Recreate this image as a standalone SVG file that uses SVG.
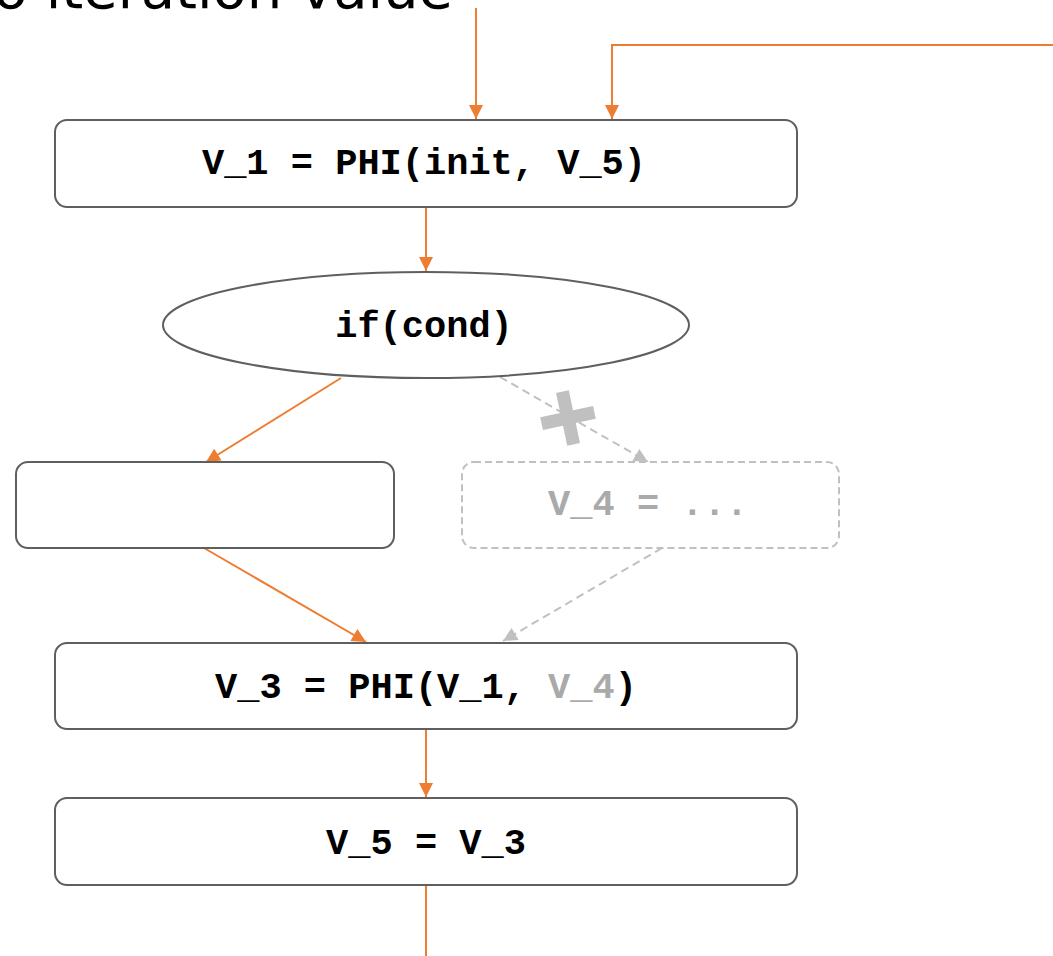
<svg xmlns="http://www.w3.org/2000/svg" width="1053" height="956" viewBox="0 0 1053 956">
  <style>
    .box { fill: #ffffff; stroke: #5f5f5f; stroke-width: 2; }
    .ghost { fill: #ffffff; stroke: #c0c0c0; stroke-width: 2; stroke-dasharray: 7 4; }
    .code { font-family: "Liberation Mono", "Courier New", monospace; font-weight: bold; font-size: 37px; fill: #000000; text-anchor: middle; }
    .dim { fill: #aaaaaa; }
    .flow { fill: none; stroke: #ed7d31; stroke-width: 2; }
    .dead { fill: none; stroke: #c0c0c0; stroke-width: 2; stroke-dasharray: 8 5; }
    .caption { font-family: "DejaVu Sans", "Liberation Sans", sans-serif; font-size: 56px; fill: #000000; }
  </style>
  <defs>
    <marker id="arrow" markerUnits="userSpaceOnUse" markerWidth="16" markerHeight="16" viewBox="0 0 16 16" refX="15" refY="8" orient="auto">
      <path d="M1,1 L15,8 L1,15 Z" fill="#ed7d31"/>
    </marker>
    <marker id="arrow-dead" markerUnits="userSpaceOnUse" markerWidth="16" markerHeight="16" viewBox="0 0 16 16" refX="15" refY="8" orient="auto">
      <path d="M1,1 L15,8 L1,15 Z" fill="#c0c0c0"/>
    </marker>
  </defs>

  <!-- caption running off the top edge -->
  <text class="caption" x="453" y="8" text-anchor="end">o iteration value</text>

  <!-- connectors -->
  <g id="connectors">
    <path class="flow" d="M476,8 V119" marker-end="url(#arrow)"/>
    <path class="flow" d="M1053,45 H612 V119" marker-end="url(#arrow)"/>
    <path class="flow" d="M426,207 V271" marker-end="url(#arrow)"/>
    <path class="flow" d="M341,378 L206,462" marker-end="url(#arrow)"/>
    <path class="dead" d="M500,377 L648,462" marker-end="url(#arrow-dead)"/>
    <path class="dead" d="M662,548 L503,641" marker-end="url(#arrow-dead)"/>
    <path class="flow" d="M204,548 L366,642" marker-end="url(#arrow)"/>
    <path class="flow" d="M426,729 V797" marker-end="url(#arrow)"/>
    <path class="flow" d="M426,885 V956"/>
    <!-- blocked edge mark -->
    <g transform="translate(568,418) rotate(-12)" fill="#c0c0c0">
      <rect x="-27" y="-6.5" width="54" height="13"/>
      <rect x="-6.5" y="-27" width="13" height="54"/>
    </g>
  </g>

  <g id="phi-v1">
    <rect class="box" x="55" y="120" width="742" height="87" rx="12"/>
    <text class="code" x="424" y="174" xml:space="preserve">V_1 = PHI(init, V_5)</text>
  </g>

  <g id="cond">
    <ellipse class="box" cx="426" cy="325" rx="263" ry="53"/>
    <text class="code" x="424" y="337">if(cond)</text>
  </g>

  <g id="then-block">
    <rect class="box" x="16" y="462" width="378" height="86" rx="12"/>
  </g>

  <g id="v4-block">
    <rect class="ghost" x="462" y="462" width="377" height="86" rx="12"/>
    <text class="code dim" x="648" y="515" xml:space="preserve">V_4 = ...</text>
  </g>

  <g id="phi-v3">
    <rect class="box" x="55" y="643" width="742" height="86" rx="12"/>
    <text class="code" x="426" y="698" xml:space="preserve">V_3 = PHI(V_1, <tspan class="dim">V_4</tspan>)</text>
  </g>

  <g id="v5">
    <rect class="box" x="55" y="798" width="742" height="87" rx="12"/>
    <text class="code" x="426" y="854" xml:space="preserve">V_5 = V_3</text>
  </g>
</svg>
